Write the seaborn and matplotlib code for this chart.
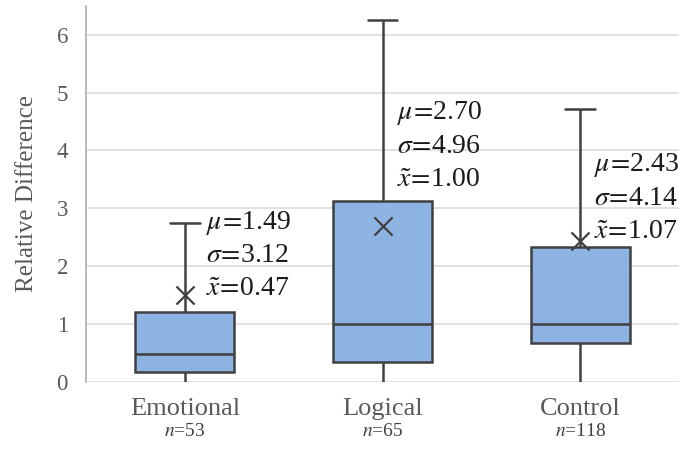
import numpy as np
import pandas as pd
import matplotlib
matplotlib.use("Agg")
import matplotlib.pyplot as plt
import seaborn as sns

# ---- data ----
categories = ["Emotional", "Logical", "Control"]
n_obs = [53, 65, 118]
whisker_low = [0.0, 0.0, 0.0]
q1 = [0.16, 0.33, 0.67]
medians = [0.47, 1.00, 1.00]
q3 = [1.21, 3.12, 2.33]
whisker_high = [2.75, 6.26, 4.71]
means = [1.49, 2.70, 2.43]
stds = [3.12, 4.96, 4.14]
median_labels = [0.47, 1.00, 1.07]

# five-number summaries -> long table (quantiles reproduce the summary exactly)
rows = []
for c, lo, a, m, b, hi in zip(categories, whisker_low, q1, medians, q3, whisker_high):
    for v in (lo, a, m, b, hi):
        rows.append({"group": c, "value": v})
df = pd.DataFrame(rows)

sns.set_theme(style="whitegrid")
plt.rcParams["font.family"] = ["Liberation Serif", "DejaVu Serif"]
plt.rcParams["mathtext.fontset"] = "stix"

fig = plt.figure(figsize=(6.79, 4.51), dpi=100)
ax = fig.add_axes([0.1267, 0.1541, 0.8733, 0.8326])

box_fill = "#8DB3E2"
edge = "#404040"
sns.boxplot(data=df, x="group", y="value", order=categories, whis=(0, 100),
            width=0.5, color=box_fill, saturation=1, linecolor=edge,
            linewidth=1.8, capwidths=0.15, ax=ax)

# hide the lower caps sitting on the zero line
for ln in ax.lines:
    yd = np.asarray(ln.get_ydata(), dtype=float)
    xd = np.asarray(ln.get_xdata(), dtype=float)
    if len(yd) == 2 and np.allclose(yd, 0) and not np.isclose(xd[0], xd[1]):
        ln.set_visible(False)

# mean markers
sns.scatterplot(x=categories, y=means, marker="x", s=170, color=edge,
                linewidth=1.6, zorder=5, ax=ax, legend=False)

ax.set_xlim(-0.5, 2.5)
ax.set_ylim(0, 6.5)
ax.set_yticks(range(0, 7))
ax.grid(axis="y", color="#D9D9D9", linewidth=1.1)
ax.grid(axis="x", visible=False)
for s in ["top", "right", "bottom"]:
    ax.spines[s].set_visible(False)
ax.spines["left"].set_color("#A6A6A6")
ax.spines["left"].set_linewidth(1.1)
ax.set_facecolor("white")

ax.set_xlabel("")
ax.set_ylabel("Relative Difference", fontsize=18, color="#595959", labelpad=13)
ax.tick_params(axis="y", length=0, pad=13, labelsize=16.5, labelcolor="#595959")
ax.tick_params(axis="x", length=0, pad=12, labelsize=19, labelcolor="#595959")

# n labels under category names
for i, n in enumerate(n_obs):
    ax.annotate(f"$n$={n}", xy=(i, 0), xycoords=("data", "axes fraction"),
                xytext=(0, -39.5), textcoords="offset points", ha="center",
                va="baseline", fontsize=14, color="#404040")

# statistics annotations
anchors = [(0.109, 2.75), (0.075, 4.64), (0.069, 3.74)]
text_color = "#1a1a1a"
for i, (dx, y) in enumerate(anchors):
    lines = [f"$\\mu\\!=\\!$ {means[i]:.2f}".replace(" ", ""),
             f"$\\sigma\\!=\\!${stds[i]:.2f}",
             f"$\\tilde{{x}}\\!=\\!${median_labels[i]:.2f}"]
    for k, t in enumerate(lines):
        ax.annotate(t, xy=(i + dx, y), xytext=(0, -24 * k),
                    textcoords="offset points", ha="left", va="center",
                    fontsize=20, color=text_color, zorder=6)

fig.savefig("out.png", dpi=100)
